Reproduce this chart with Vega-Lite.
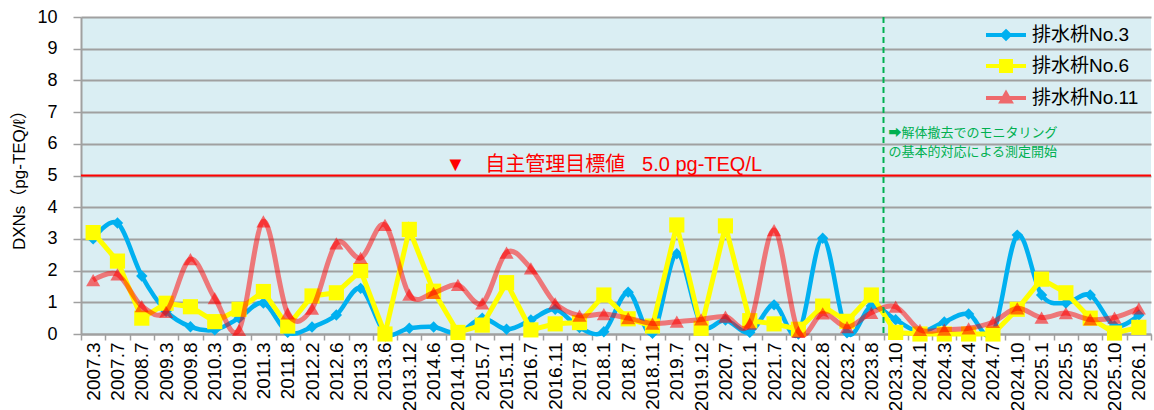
{
  "$schema": "https://vega.github.io/schema/vega-lite/v6.json",
  "width": 1070,
  "height": 317,
  "autosize": "none",
  "padding": {"left": 81, "top": 17, "right": 3, "bottom": 76},
  "background": "white",
  "config": {
    "view": {"fill": "#DAEEF3", "stroke": null},
    "font": "Liberation Sans, Noto Sans CJK JP",
    "axisX": {
      "tickBand": "extent", "labelAngle": -90, "labelAlign": "right", "labelBaseline": "middle",
      "labelFontSize": 19, "labelColor": "black", "labelPadding": 2, "labelFont": "Liberation Sans",
      "domainColor": "#A0A0A0", "domainWidth": 2, "tickColor": "#A0A0A0", "tickWidth": 1.5, "tickSize": 6,
      "grid": false, "labelOverlap": false
    },
    "axisY": {
      "values": [0, 1, 2, 3, 4, 5, 6, 7, 8, 9, 10], "labelFontSize": 18, "labelColor": "black",
      "labelFont": "Liberation Sans", "labelPadding": 16, "tickSize": 8, "tickColor": "#A0A0A0", "tickWidth": 1.5,
      "domainColor": "#A0A0A0", "domainWidth": 2, "gridColor": "#A0A0A0", "gridWidth": 2, "grid": true,
      "titleFontSize": 17, "titleFontWeight": "normal", "titleColor": "black", "titlePadding": 8,
      "titleFont": "Liberation Sans, Noto Sans CJK JP"
    }
  },
  "layer": [
    {
      "data": {"values": [
        {"d": "2007.3", "No3": 3.0, "No6": 3.2, "No11": 1.7},
        {"d": "2007.7", "No3": 3.5, "No6": 2.3, "No11": 1.88},
        {"d": "2008.7", "No3": 1.83, "No6": 0.5, "No11": 0.88},
        {"d": "2009.3", "No3": 0.72, "No6": 0.97, "No11": 0.7},
        {"d": "2009.8", "No3": 0.23, "No6": 0.86, "No11": 2.36},
        {"d": "2010.3", "No3": 0.13, "No6": 0.39, "No11": 1.13},
        {"d": "2010.9", "No3": 0.5, "No6": 0.78, "No11": 0.13},
        {"d": "2011.3", "No3": 0.98, "No6": 1.34, "No11": 3.55},
        {"d": "2011.8", "No3": 0.05, "No6": 0.25, "No11": 0.65},
        {"d": "2012.2", "No3": 0.22, "No6": 1.2, "No11": 0.8},
        {"d": "2012.6", "No3": 0.6, "No6": 1.3, "No11": 2.86},
        {"d": "2013.3", "No3": 1.44, "No6": 2.0, "No11": 2.4},
        {"d": "2013.6", "No3": 0.04, "No6": 0.0, "No11": 3.44},
        {"d": "2013.12", "No3": 0.18, "No6": 3.3, "No11": 1.24},
        {"d": "2014.6", "No3": 0.22, "No6": 1.35, "No11": 1.3},
        {"d": "2014.10", "No3": 0.03, "No6": 0.05, "No11": 1.55},
        {"d": "2015.7", "No3": 0.5, "No6": 0.28, "No11": 0.97},
        {"d": "2015.11", "No3": 0.15, "No6": 1.62, "No11": 2.57},
        {"d": "2016.7", "No3": 0.44, "No6": 0.13, "No11": 2.07},
        {"d": "2016.11", "No3": 0.78, "No6": 0.32, "No11": 0.97},
        {"d": "2017.8", "No3": 0.2, "No6": 0.36, "No11": 0.58},
        {"d": "2018.1", "No3": 0.07, "No6": 1.23, "No11": 0.63},
        {"d": "2018.7", "No3": 1.32, "No6": 0.48, "No11": 0.5},
        {"d": "2018.11", "No3": 0.02, "No6": 0.25, "No11": 0.33},
        {"d": "2019.7", "No3": 2.53, "No6": 3.44, "No11": 0.39},
        {"d": "2019.12", "No3": 0.3, "No6": 0.18, "No11": 0.46},
        {"d": "2020.7", "No3": 0.44, "No6": 3.41, "No11": 0.55},
        {"d": "2021.1", "No3": 0.05, "No6": 0.42, "No11": 0.33},
        {"d": "2021.7", "No3": 0.92, "No6": 0.32, "No11": 3.28},
        {"d": "2022.2", "No3": 0.0, "No6": 0.15, "No11": 0.07},
        {"d": "2022.8", "No3": 3.02, "No6": 0.88, "No11": 0.65},
        {"d": "2023.2", "No3": 0.04, "No6": 0.4, "No11": 0.22},
        {"d": "2023.8", "No3": 0.88, "No6": 1.23, "No11": 0.67},
        {"d": "2023.10", "No3": 0.45, "No6": 0.05, "No11": 0.86},
        {"d": "2024.1", "No3": 0.07, "No6": 0.0, "No11": 0.13},
        {"d": "2024.3", "No3": 0.38, "No6": 0.0, "No11": 0.14},
        {"d": "2024.4", "No3": 0.63, "No6": 0.0, "No11": 0.18},
        {"d": "2024.7", "No3": 0.03, "No6": 0.0, "No11": 0.38},
        {"d": "2024.10", "No3": 3.12, "No6": 0.78, "No11": 0.81},
        {"d": "2025.1", "No3": 1.23, "No6": 1.73, "No11": 0.52},
        {"d": "2025.5", "No3": 0.98, "No6": 1.3, "No11": 0.66},
        {"d": "2025.8", "No3": 1.23, "No6": 0.5, "No11": 0.46},
        {"d": "2025.10", "No3": 0.25, "No6": 0.03, "No11": 0.52},
        {"d": "2026.1", "No3": 0.6, "No6": 0.21, "No11": 0.81}
      ]},
      "transform": [{"fold": ["No3", "No6", "No11"], "as": ["s", "v"]}],
      "encoding": {
        "x": {
          "field": "d", "type": "ordinal", "title": null,
          "scale": {
            "domain": ["2007.3","2007.7","2008.7","2009.3","2009.8","2010.3","2010.9","2011.3","2011.8","2012.2","2012.6","2013.3","2013.6","2013.12","2014.6","2014.10","2015.7","2015.11","2016.7","2016.11","2017.8","2018.1","2018.7","2018.11","2019.7","2019.12","2020.7","2021.1","2021.7","2022.2","2022.8","2023.2","2023.8","2023.10","2024.1","2024.3","2024.4","2024.7","2024.10","2025.1","2025.5","2025.8","2025.10","2026.1"],
            "paddingInner": 0, "paddingOuter": 0
          }
        },
        "y": {"field": "v", "type": "quantitative", "title": "DXNs（pg-TEQ/ℓ）", "scale": {"domain": [0, 10], "nice": false}},
        "color": {
          "field": "s", "type": "nominal",
          "scale": {"domain": ["No3", "No6", "No11"], "range": ["#00B0F0", "#FFFF00", "#FF0000"]},
          "legend": {
            "title": null, "orient": "none", "legendX": 913, "legendY": 6, "padding": 0,
            "labelExpr": "datum.value == 'No3' ? '排水枡No.3' : datum.value == 'No6' ? '排水枡No.6' : '排水枡No.11'",
            "labelFont": "Liberation Sans, Noto Sans CJK JP", "labelFontSize": 19, "labelColor": "black",
            "symbolSize": 400, "rowPadding": 6, "labelOffset": 14, "symbolStrokeWidth": 4,
            "encode": {
              "symbols": {
                "update": {
                  "shape": {"signal": "datum.value === 'No3' ? 'M-2,0L2,0M0,-0.35L0.35,0L0,0.35L-0.35,0Z' : datum.value === 'No6' ? 'M-2,0L2,0M-0.5,-0.5L0.5,-0.5L0.5,0.5L-0.5,0.5Z' : 'M-2,0L2,0M0,-0.45L0.45,0.35L-0.45,0.35Z'"},
                  "fill": {"signal": "scale('color', datum.value)"},
                  "stroke": {"signal": "scale('color', datum.value)"},
                  "strokeWidth": {"value": 4},
                  "opacity": {"signal": "datum.value === 'No11' ? 0.55 : 1"}
                }
              }
            }
          }
        }
      },
      "layer": [
        {"transform": [{"filter": "datum.s === 'No3'"}], "mark": {"type": "line", "interpolate": "cardinal", "strokeWidth": 4.5}},
        {"transform": [{"filter": "datum.s === 'No3'"}], "mark": {"type": "point", "shape": "diamond", "filled": true, "size": 130, "opacity": 1}},
        {"transform": [{"filter": "datum.s === 'No6'"}], "mark": {"type": "line", "interpolate": "linear", "strokeWidth": 5}},
        {"transform": [{"filter": "datum.s === 'No6'"}], "mark": {"type": "point", "shape": "square", "filled": true, "size": 230, "opacity": 1}},
        {"transform": [{"filter": "datum.s === 'No11'"}], "mark": {"type": "line", "interpolate": "cardinal", "strokeWidth": 5, "opacity": 0.5}},
        {"transform": [{"filter": "datum.s === 'No11'"}], "mark": {"type": "point", "shape": "triangle-up", "filled": true, "size": 200, "opacity": 0.55}}
      ]
    },
    {
      "data": {"values": [{}]},
      "layer": [
        {
          "mark": {"type": "rule", "color": "#FF0000", "strokeWidth": 2},
          "encoding": {"y": {"datum": 5, "type": "quantitative", "title": "DXNs（pg-TEQ/ℓ）"}}
        },
        {
          "mark": {"type": "rule", "color": "#00B050", "strokeWidth": 2, "strokeDash": [6, 4]},
          "encoding": {"x": {"datum": "2023.10", "type": "ordinal", "bandPosition": 0, "title": null}}
        },
        {
          "mark": {"type": "text", "color": "#FF0000", "fontSize": 20, "align": "center", "baseline": "bottom", "dy": -1, "font": "Liberation Sans, Noto Sans CJK JP", "text": "▼\u3000自主管理目標値\u00a0\u00a0\u00a05.0 pg-TEQ/L"},
          "encoding": {
            "x": {"datum": "2018.1", "type": "ordinal", "title": null},
            "y": {"datum": 5, "type": "quantitative", "title": "DXNs（pg-TEQ/ℓ）"}
          }
        },
        {
          "mark": {"type": "text", "color": "#00B050", "fontSize": 13, "align": "left", "baseline": "middle", "dx": 5, "lineHeight": 19, "font": "Noto Sans CJK JP", "text": ["➡解体撤去でのモニタリング", "の基本的対応による測定開始"]},
          "encoding": {
            "x": {"datum": "2023.10", "type": "ordinal", "bandPosition": 0, "title": null},
            "y": {"datum": 6.34, "type": "quantitative", "title": "DXNs（pg-TEQ/ℓ）"}
          }
        }
      ]
    }
  ]
}
